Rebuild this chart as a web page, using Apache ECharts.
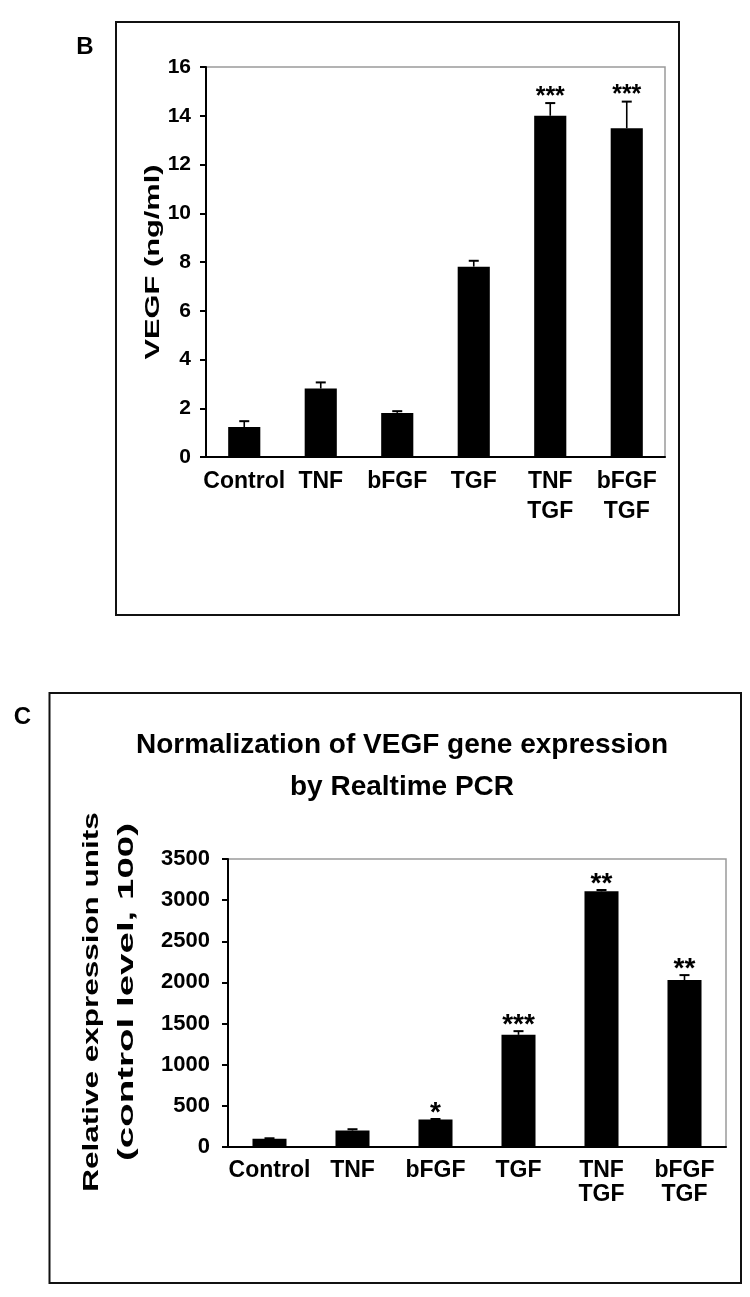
<!DOCTYPE html>
<html>
<head>
<meta charset="utf-8">
<script src="https://cdn.jsdelivr.net/npm/echarts@6/dist/echarts.min.js"></script>
<style>
html,body{margin:0;padding:0;background:#fff;}
#chart{width:750px;height:1297px;}
</style>
</head>
<body>
<div id="chart"></div>
<script>
// ---------- data ----------
const categories = ['Control', 'TNF', 'bFGF', 'TGF', 'TNF\nTGF', 'bFGF\nTGF'];

// Panel B: VEGF protein (ng/ml)
const vegfMeans  = [1.23, 2.81, 1.81, 7.81, 14.0, 13.49];
const vegfErrors = [0.24, 0.25, 0.07, 0.24, 0.52, 1.09];
const vegfStars  = ['', '', '', '', '***', '***'];
const vegfTicks  = [0, 2, 4, 6, 8, 10, 12, 14, 16];

// Panel C: relative expression units (control level 100)
const pcrMeans  = [100, 200, 334, 1363, 3107, 2028];
const pcrErrors = [6, 16, 6, 45, 16, 61];
const pcrStars  = ['', '', '*', '***', '**', '**'];
const pcrTicks  = [0, 500, 1000, 1500, 2000, 2500, 3000, 3500];

const panelBLetter = 'B';
const panelCLetter = 'C';
const vegfAxisName = 'VEGF (ng/ml)';
const pcrAxisName1 = 'Relative expression units';
const pcrAxisName2 = '(control level, 100)';
const pcrTitle = 'Normalization of VEGF gene expression\nby Realtime PCR';

// ---------- styles ----------
const SANS = '"Liberation Sans", Arial, sans-serif';
const NARROW = '"Liberation Sans Narrow", "Arial Narrow", "Liberation Sans", sans-serif';

function errorBarRender(params, api) {
  const x = api.value(0);
  const base = api.coord([x, api.value(1)]);
  const top = api.coord([x, api.value(2)]);
  const half = 5;
  return {
    type: 'group',
    children: [
      { type: 'line', shape: { x1: base[0], y1: base[1], x2: top[0], y2: top[1] },
        style: { stroke: '#000', lineWidth: 1.6 } },
      { type: 'line', shape: { x1: top[0] - half, y1: top[1], x2: top[0] + half, y2: top[1] },
        style: { stroke: '#000', lineWidth: 2 } }
    ]
  };
}

function makeStarRender(stars, size) {
  return function (params, api) {
    const i = api.value(0);
    const txt = stars[i];
    if (!txt) return null;
    const top = api.coord([i, api.value(1)]);
    return {
      type: 'text',
      style: {
        text: txt,
        x: top[0],
        y: top[1] - 12 + size * 0.23,
        textAlign: 'center',
        textVerticalAlign: 'middle',
        font: 'bold ' + size + 'px ' + SANS,
        fill: '#000'
      }
    };
  };
}

const vegfErrData = vegfMeans.map((m, i) => [i, m, m + vegfErrors[i]]);
const pcrErrData = pcrMeans.map((m, i) => [i, m, m + pcrErrors[i]]);

function yAxisCfg(ticks, gridIndex, labelFont, labelSize, margin) {
  const step = ticks[1] - ticks[0];
  return {
    type: 'value', gridIndex: gridIndex,
    min: ticks[0], max: ticks[ticks.length - 1], interval: step,
    axisLine: { show: true, lineStyle: { color: '#000', width: 2 } },
    axisTick: { show: true, inside: false, length: 6, lineStyle: { color: '#000', width: 2 } },
    splitLine: { show: false },
    axisLabel: { color: '#000', fontFamily: labelFont, fontWeight: 'bold', fontSize: labelSize,
                 margin: margin, formatter: v => String(v) }
  };
}

function xAxisCfg(gridIndex, size, lineHeight, margin) {
  return {
    type: 'category', gridIndex: gridIndex, data: categories,
    axisLine: { show: true, lineStyle: { color: '#000', width: 2 } },
    axisTick: { show: false },
    axisLabel: { color: '#000', fontFamily: SANS, fontWeight: 'bold', fontSize: size,
                 lineHeight: lineHeight, margin: margin, interval: 0 }
  };
}

const option = {
  backgroundColor: '#fff',
  animation: false,
  grid: [
    { left: 206, top: 67, width: 459, height: 390, show: true, borderColor: '#9a9a9a', borderWidth: 1.5, backgroundColor: 'transparent' },
    { left: 228, top: 859, width: 498, height: 288, show: true, borderColor: '#9a9a9a', borderWidth: 1.5, backgroundColor: 'transparent' }
  ],
  xAxis: [
    xAxisCfg(0, 23, 30, 10),
    xAxisCfg(1, 23, 24, 12)
  ],
  yAxis: [
    yAxisCfg(vegfTicks, 0, NARROW, 21, 15),
    yAxisCfg(pcrTicks, 1, SANS, 22, 18)
  ],
  series: [
    { type: 'bar', xAxisIndex: 0, yAxisIndex: 0, data: vegfMeans, barWidth: '42%',
      itemStyle: { color: '#000' }, z: 2 },
    { type: 'custom', xAxisIndex: 0, yAxisIndex: 0, data: vegfErrData,
      renderItem: errorBarRender, z: 3 },
    { type: 'custom', xAxisIndex: 0, yAxisIndex: 0,
      data: vegfErrData.map(d => [d[0], d[2]]),
      renderItem: makeStarRender(vegfStars, 25), z: 4 },

    { type: 'bar', xAxisIndex: 1, yAxisIndex: 1, data: pcrMeans, barWidth: '41%',
      itemStyle: { color: '#000' }, z: 2 },
    { type: 'custom', xAxisIndex: 1, yAxisIndex: 1, data: pcrErrData,
      renderItem: errorBarRender, z: 3 },
    { type: 'custom', xAxisIndex: 1, yAxisIndex: 1,
      data: pcrErrData.map(d => [d[0], d[2]]),
      renderItem: makeStarRender(pcrStars, 28), z: 4 }
  ],
  graphic: [
    // panel frames
    { type: 'rect', shape: { x: 116, y: 22, width: 563, height: 593 },
      style: { fill: 'none', stroke: '#111', lineWidth: 2 }, silent: true },
    { type: 'rect', shape: { x: 49.5, y: 693, width: 691.5, height: 590 },
      style: { fill: 'none', stroke: '#111', lineWidth: 2 }, silent: true },
    // panel letters
    { type: 'text', x: 85, y: 47,
      style: { text: panelBLetter, font: 'bold 24px ' + SANS, fill: '#000', textAlign: 'center', textVerticalAlign: 'middle' } },
    { type: 'text', x: 22.5, y: 717,
      style: { text: panelCLetter, font: 'bold 24px ' + SANS, fill: '#000', textAlign: 'center', textVerticalAlign: 'middle' } },
    // panel C title
    { type: 'text', x: 402, y: 724,
      style: { text: pcrTitle, font: 'bold 28px ' + SANS, lineHeight: 42, fill: '#000', textAlign: 'center', textVerticalAlign: 'top' } },
    // y-axis names (rotated)
    { type: 'text', x: 153, y: 262, rotation: Math.PI / 2, scaleX: 1.4, scaleY: 0.95,
      style: { text: vegfAxisName, font: 'bold 22px ' + SANS, fill: '#000', textAlign: 'center', textVerticalAlign: 'middle' } },
    { type: 'text', x: 92, y: 1002, rotation: Math.PI / 2, scaleX: 1.43,
      style: { text: pcrAxisName1, font: 'bold 22px ' + SANS, fill: '#000', textAlign: 'center', textVerticalAlign: 'middle' } },
    { type: 'text', x: 127, y: 992, rotation: Math.PI / 2, scaleX: 1.75,
      style: { text: pcrAxisName2, font: 'bold 22px ' + SANS, fill: '#000', textAlign: 'center', textVerticalAlign: 'middle' } }
  ]
};

const chart = echarts.init(document.getElementById('chart'), null, { renderer: 'canvas' });
chart.setOption(option);
</script>
</body>
</html>
